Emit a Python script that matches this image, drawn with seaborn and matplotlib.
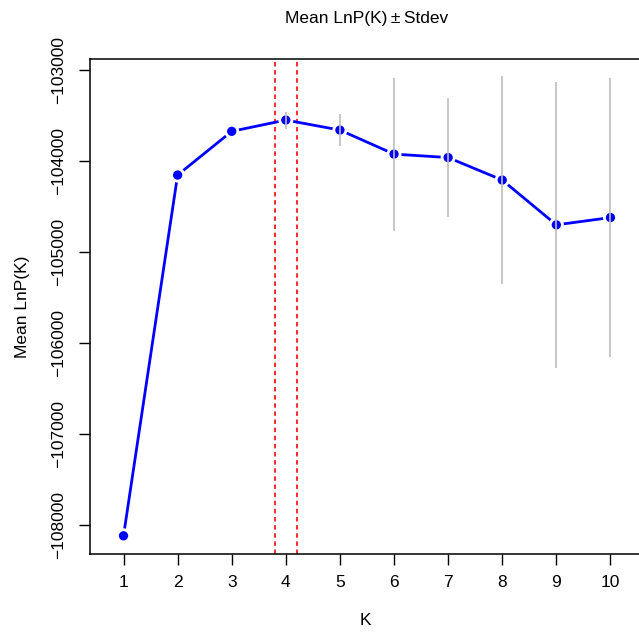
import matplotlib
matplotlib.use("Agg")
import matplotlib.pyplot as plt
import seaborn as sns
import pandas as pd

# ---- data ----
K = [1, 2, 3, 4, 5, 6, 7, 8, 9, 10]
mean_lnp = [-108115, -104153, -103673, -103549, -103659, -103923, -103961, -104208, -104700, -104620]
stdev = [0, 0, 0, 93, 176, 840, 657, 1142, 1574, 1535]
best_k_lines = [3.8, 4.2]
y_ticks = [-108000, -107000, -106000, -105000, -104000, -103000]
x_ticks = K

sns.set_style("white")
plt.rcParams['font.family'] = ['Liberation Sans', 'DejaVu Sans']
plt.rcParams['axes.unicode_minus'] = True

df = pd.DataFrame({"K": K, "mean": mean_lnp, "sd": stdev})
df["lo"] = df["mean"] - df["sd"]
df["hi"] = df["mean"] + df["sd"]

fig = plt.figure(figsize=(6.39, 6.35), dpi=100)
ax = fig.add_axes([0.1408, 0.1271, 0.867, 0.7795])

for xv in best_k_lines:
    ax.axvline(xv, color="#FF1A1A", lw=1.3, ls=(0, (2.5, 2)), zorder=1)

sns.lineplot(data=df, x="K", y="mean", color="#0000FF", lw=2.0, ax=ax, zorder=2)
sns.scatterplot(data=df, x="K", y="mean", s=(15 * 0.72) ** 2, color="white",
                edgecolor="none", ax=ax, zorder=3)
sns.scatterplot(data=df, x="K", y="mean", s=(9.3 * 0.72) ** 2, color="#0000FF",
                edgecolor="none", ax=ax, zorder=4)
ax.vlines(df["K"], df["lo"], df["hi"], color="#BEBEBE", lw=1.2, zorder=5)

ax.set_xlim(0.38, 10.62)
ax.set_ylim(-108318, -102882)
ax.set_xticks(x_ticks)
ax.set_xticklabels([str(k) for k in x_ticks])
ax.set_yticks(y_ticks)
ax.set_yticklabels([f"{v}".replace("-", "\u2212") for v in y_ticks], rotation=90, va="center")

for s in ax.spines.values():
    s.set_color("black")
    s.set_linewidth(1.1)
    s.set_visible(True)

ax.tick_params(axis="both", direction="out", length=8, width=1.0, color="black",
               labelsize=12.5, labelcolor="black", left=True, bottom=True)
ax.tick_params(axis="x", pad=7)
ax.tick_params(axis="y", pad=9)

ax.set_xlabel("K", fontsize=12.5, color="black")
ax.set_ylabel("Mean LnP(K)", fontsize=12.5, color="black")
ax.xaxis.set_label_coords(0.498, -0.1347)
ax.xaxis.label.set_va("center")
ax.yaxis.set_label_coords(-0.1210, 0.5)
ax.yaxis.label.set_va("center")
ax.yaxis.label.set_ha("center")

ax.set_title("Mean LnP(K)\u2009\u00b1\u2009Stdev", fontsize=12.5, color="black",
             y=1 + 41 / 495, va="center", pad=0)

fig.savefig("out.png", dpi=100)
